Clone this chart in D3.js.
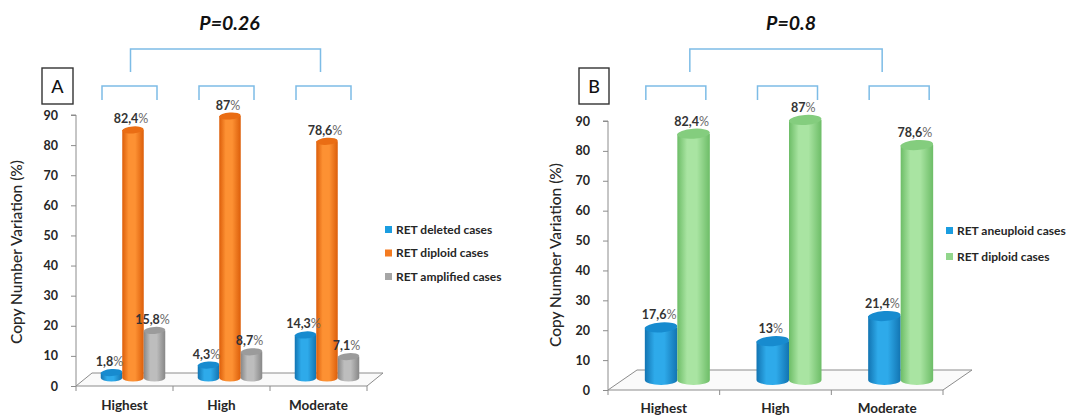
<!DOCTYPE html>
<html>
<head>
<meta charset="utf-8">
<script src="https://cdn.jsdelivr.net/npm/d3@7"></script>
<style>
  html, body { margin: 0; padding: 0; background: #ffffff; }
  svg { display: block; font-family: Lato, "Open Sans", "DejaVu Sans", sans-serif; }
</style>
</head>
<body>
<svg id="chart" width="1073" height="416"></svg>
<script>
// ---- Data ----
const categories = ["Highest", "High", "Moderate"];
const yTicks = [0, 10, 20, 30, 40, 50, 60, 70, 80, 90];

// Panel A: RET copy number state per risk group (%)
const deletedCases   = [1.8, 4.3, 14.3];
const diploidCasesA  = [82.4, 87, 78.6];
const amplifiedCases = [15.8, 8.7, 7.1];
const seriesNamesA   = ["RET deleted cases", "RET diploid cases", "RET amplified cases"];

// Panel B: aneuploid vs diploid per risk group (%)
const aneuploidCases = [17.6, 13, 21.4];
const diploidCasesB  = [82.4, 87, 78.6];
const seriesNamesB   = ["RET aneuploid cases", "RET diploid cases"];

const panelLetters = ["A", "B"];
const pValues = ["P=0.26", "P=0.8"];
const yTitle = "Copy Number Variation (%)";

// ---- Styles ----
const palette = {
  blue:   { dark: "#1274b2", light: "#2eaaea", top: "#178bcf", key: "#1b9de0" },
  orange: { dark: "#dc5e0a", light: "#fd9133", top: "#ea6d14", key: "#f47b20" },
  gray:   { dark: "#878787", light: "#bdbdbd", top: "#9b9b9b", key: "#a6a6a6" },
  green:  { dark: "#6dbd67", light: "#a9e4a2", top: "#84cd7e", key: "#92d68c" }
};
const bracketColor = "#7dbce6";
const axisColor = "#8c8c8c";
const textColor = "#262626";

const svg = d3.select("#chart");
const defs = svg.append("defs");
Object.entries(palette).forEach(([name, c]) => {
  const g = defs.append("linearGradient").attr("id", "cyl-" + name)
    .attr("x1", "0%").attr("x2", "100%").attr("y1", "0%").attr("y2", "0%");
  g.append("stop").attr("offset", "0%").attr("stop-color", c.dark);
  g.append("stop").attr("offset", "30%").attr("stop-color", c.light);
  g.append("stop").attr("offset", "60%").attr("stop-color", c.light);
  g.append("stop").attr("offset", "100%").attr("stop-color", c.dark);
});

const fmt = v => String(v).replace(".", ",");

function drawPanel(cfg) {
  const g = svg.append("g");

  const y = d3.scaleLinear().domain([0, 90]).range([cfg.yZero, cfg.yMax]);
  const x = d3.scaleBand().domain(categories).range([cfg.axisX0, cfg.axisX1]);
  const inner = d3.scaleBand().domain(cfg.series.map((s, i) => i))
    .range([0, cfg.barW * cfg.series.length]);

  // floor (3D base plane)
  const [ddx, ddy] = cfg.depth;
  g.append("path")
    .attr("d", `M${cfg.axisX0},${y(0)} L${cfg.axisX0 + ddx},${y(0) + ddy} L${cfg.axisX1 + ddx},${y(0) + ddy} L${cfg.axisX1},${y(0)}`)
    .attr("fill", "#fafafa").attr("stroke", axisColor).attr("stroke-width", 1);

  // y axis
  const yAxis = d3.axisLeft(y).tickValues(yTicks).tickSize(5).tickPadding(cfg.tickPad);
  const ya = g.append("g").attr("transform", `translate(${cfg.axisX0},0)`).call(yAxis);
  ya.select(".domain").attr("stroke", axisColor).attr("d", `M-5,${y(90)}H0V${y(0)}`);
  ya.selectAll(".tick line").attr("stroke", axisColor);
  ya.selectAll(".tick text").attr("fill", textColor).attr("font-size", 12.5)
    .attr("font-weight", 700).attr("font-family", "Lato, sans-serif");

  // x axis
  const xAxis = d3.axisBottom(x).tickSize(0).tickFormat("");
  const xa = g.append("g").attr("transform", `translate(0,${y(0)})`).call(xAxis);
  xa.select(".domain").attr("stroke", axisColor).attr("d", `M${cfg.axisX0},0H${cfg.axisX1}`);
  const bounds = [cfg.axisX0].concat(categories.map(c => x(c) + x.bandwidth()));
  xa.selectAll(".bound").data(bounds).join("line").attr("class", "bound")
    .attr("x1", d => d).attr("x2", d => d).attr("y1", 0).attr("y2", 5)
    .attr("stroke", axisColor);
  g.selectAll(".cat").data(categories).join("text").attr("class", "cat")
    .attr("x", d => x(d) + x.bandwidth() / 2)
    .attr("y", cfg.catY)
    .attr("text-anchor", "middle")
    .attr("font-size", 13.5).attr("font-weight", 700).attr("fill", textColor)
    .text(d => d);

  // y axis title
  g.append("text")
    .attr("transform", `translate(${cfg.titleX},${cfg.titleY}) rotate(-90)`)
    .attr("text-anchor", "middle")
    .attr("font-size", 15.5).attr("font-weight", 500).attr("fill", textColor)
    .text(yTitle);

  // cylinders
  const [bdx, bdy] = cfg.barShift;
  const groupW = cfg.barW * cfg.series.length;
  const bars = [];
  cfg.series.forEach((s, si) => {
    s.values.forEach((v, ci) => {
      const cat = categories[ci];
      const left = x(cat) + (x.bandwidth() - groupW) / 2 + inner(si) + bdx;
      bars.push({ v, left, color: s.color, ci, si });
    });
  });
  const rx = cfg.barW / 2, ry = cfg.ry;
  bars.forEach(b => {
    const yb = y(0) + bdy;
    const yt = y(b.v) + bdy;
    const c = palette[b.color];
    g.append("path")
      .attr("d", `M${b.left},${yt} L${b.left},${yb} A${rx},${ry} 0 0 0 ${b.left + cfg.barW},${yb} L${b.left + cfg.barW},${yt} Z`)
      .attr("fill", `url(#cyl-${b.color})`);
    g.append("ellipse")
      .attr("cx", b.left + rx).attr("cy", yt).attr("rx", rx).attr("ry", ry)
      .attr("fill", c.top)
      .attr("transform", `rotate(-4,${b.left + rx},${yt})`);
  });
  // value labels
  bars.forEach(b => {
    const t = g.append("text")
      .attr("x", b.left + rx - 2)
      .attr("y", y(b.v) + bdy - ry - cfg.labelGap)
      .attr("text-anchor", "middle")
      .attr("font-size", 12.5).attr("font-weight", 700).attr("fill", "#333");
    t.append("tspan").text(fmt(b.v));
    t.append("tspan").attr("font-weight", 400).attr("fill", "#6a6a6a").text("%");
  });

  // legend
  cfg.series.forEach((s, i) => {
    const ly = cfg.legend.y + i * cfg.legend.step;
    g.append("rect").attr("x", cfg.legend.x).attr("y", ly - 3.5)
      .attr("width", 7).attr("height", 7).attr("fill", palette[s.color].key);
    g.append("text").attr("x", cfg.legend.x + 11).attr("y", ly + 4)
      .attr("font-size", 12).attr("font-weight", 700).attr("fill", textColor)
      .text(s.name);
  });

  // panel letter box
  g.append("rect").attr("x", cfg.box.x).attr("y", cfg.box.y)
    .attr("width", cfg.box.w).attr("height", cfg.box.h)
    .attr("fill", "#fff").attr("stroke", "#333").attr("stroke-width", 1.4);
  g.append("text").attr("x", cfg.box.x + cfg.box.w / 2).attr("y", cfg.box.y + cfg.box.h / 2 + 6.5)
    .attr("text-anchor", "middle").attr("font-size", 18).attr("font-weight", 500)
    .attr("fill", "#111").text(cfg.letter);

  // comparison brackets
  const centers = categories.map(c => x(c) + x.bandwidth() / 2 + cfg.bracket.shift);
  centers.forEach(cx => {
    g.append("path")
      .attr("d", `M${cx - cfg.bracket.half},${cfg.bracket.smallY1} V${cfg.bracket.smallY0} H${cx + cfg.bracket.half} V${cfg.bracket.smallY1}`)
      .attr("fill", "none").attr("stroke", bracketColor).attr("stroke-width", 1.5);
  });
  const bx0 = centers[0] + cfg.bracket.bigInset[0];
  const bx1 = centers[2] + cfg.bracket.bigInset[1];
  g.append("path")
    .attr("d", `M${bx0},${cfg.bracket.bigY1} V${cfg.bracket.bigY0} H${bx1} V${cfg.bracket.bigY1}`)
    .attr("fill", "none").attr("stroke", bracketColor).attr("stroke-width", 1.5);

  g.append("text").attr("x", (bx0 + bx1) / 2 + cfg.pShift).attr("y", 30)
    .attr("text-anchor", "middle").attr("font-size", 19.5)
    .attr("font-weight", 700).attr("font-style", "italic").attr("fill", "#111")
    .text(cfg.pValue);
}

drawPanel({
  letter: panelLetters[0], pValue: pValues[0], pShift: 4,
  series: [
    { name: seriesNamesA[0], values: deletedCases, color: "blue" },
    { name: seriesNamesA[1], values: diploidCasesA, color: "orange" },
    { name: seriesNamesA[2], values: amplifiedCases, color: "gray" }
  ],
  axisX0: 76, axisX1: 367, yZero: 386, yMax: 115,
  depth: [16, -13], barShift: [8.5, -8], barW: 21.5, ry: 3.5, labelGap: 3,
  tickPad: 13, titleX: 22, titleY: 252, catY: 410,
  legend: { x: 385, y: 229.5, step: 23.5 },
  box: { x: 42, y: 68, w: 31, h: 36 },
  bracket: { shift: 5, half: 27.5, smallY0: 86, smallY1: 100, bigY0: 49, bigY1: 72, bigInset: [1, -3] }
});

drawPanel({
  letter: panelLetters[1], pValue: pValues[1], pShift: 5,
  series: [
    { name: seriesNamesB[0], values: aneuploidCases, color: "blue" },
    { name: seriesNamesB[1], values: diploidCasesB, color: "green" }
  ],
  axisX0: 608, axisX1: 943, yZero: 390, yMax: 121,
  depth: [29, -20], barShift: [13.5, -10], barW: 32.5, ry: 5, labelGap: 3,
  tickPad: 13, titleX: 561, titleY: 255, catY: 413,
  legend: { x: 946, y: 230.5, step: 26 },
  box: { x: 579, y: 68, w: 30, h: 36 },
  bracket: { shift: 12, half: 30, smallY0: 86, smallY1: 100, bigY0: 49, bigY1: 72, bigInset: [14, -17] }
});
</script>
</body>
</html>
